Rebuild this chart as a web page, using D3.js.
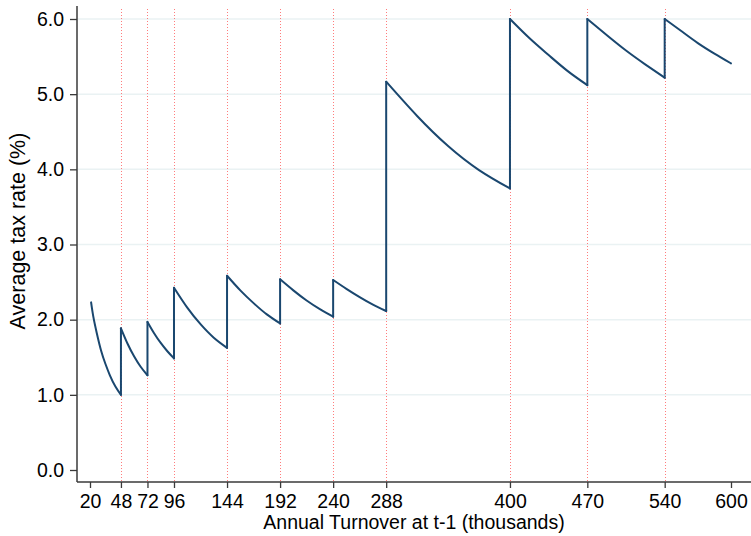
<!DOCTYPE html>
<html>
<head>
<meta charset="utf-8">
<script src="https://cdn.jsdelivr.net/npm/d3@7"></script>
<style>
  html, body { margin: 0; padding: 0; background: #fff; }
  svg { display: block; font-family: "Liberation Sans", Arial, Helvetica, sans-serif; }
</style>
</head>
<body>
<svg id="chart" width="751" height="536"></svg>
<script>
// ---- data ----
const xTicks = [20, 48, 72, 96, 144, 192, 240, 288, 400, 470, 540, 600];
const yTicks = [0, 1, 2, 3, 4, 5, 6];
const thresholds = [48, 72, 96, 144, 192, 240, 288, 400, 470, 540];

// each bracket: turnover (thousands) and average tax rate (%)
const seg1 = [[21, 2.23], [23, 2.04], [26, 1.83], [30, 1.59], [34, 1.41], [38, 1.26], [43, 1.11], [48, 1.00]];
const seg2 = [[48, 1.885], [54, 1.68], [60, 1.51], [66, 1.37], [72, 1.26]];
const seg3 = [[72, 1.97], [78, 1.82], [84, 1.69], [90, 1.58], [96, 1.485]];
const seg4 = [[96, 2.425], [108, 2.16], [120, 1.94], [132, 1.76], [144, 1.625]];
const seg5 = [[144, 2.585], [156, 2.39], [168, 2.22], [180, 2.07], [192, 1.95]];
const seg6 = [[192, 2.537], [204, 2.39], [216, 2.255], [228, 2.14], [240, 2.04]];
const seg7 = [[240, 2.528], [252, 2.41], [264, 2.30], [276, 2.20], [288, 2.115]];
const seg8 = [[288, 5.166], [316, 4.71], [344, 4.31], [372, 3.99], [400, 3.745]];
const seg9 = [[400, 6.0], [418, 5.74], [435, 5.52], [452, 5.31], [470, 5.12]];
const seg10 = [[470, 6.0], [488, 5.78], [505, 5.58], [522, 5.40], [540, 5.22]];
const seg11 = [[540, 6.0], [555, 5.84], [570, 5.68], [585, 5.54], [600, 5.41]];
const segments = [seg1, seg2, seg3, seg4, seg5, seg6, seg7, seg8, seg9, seg10, seg11];

const xTitle = "Annual Turnover at t-1 (thousands)";
const yTitle = "Average tax rate (%)";

// ---- layout ----
const svg = d3.select("#chart");
const plotLeft = 77, plotRight = 751, plotTop = 6, plotBottom = 482;
const x = d3.scaleLinear().domain([20, 600]).range([90, 731]);
const y = d3.scaleLinear().domain([0, 6]).range([470, 19]);
const lineColor = "#1a476f";
const axisColor = "#3a3a3a";
const px = v => Math.round(v) + 0.5;

// gridlines
svg.append("g").selectAll("line")
  .data(yTicks.filter(d => d > 0))
  .join("line")
  .attr("x1", plotLeft + 1).attr("x2", plotRight)
  .attr("y1", d => y(d)).attr("y2", d => y(d))
  .attr("stroke", "#eaf2f3").attr("stroke-width", 1.5);

// red dotted threshold lines
svg.append("g").selectAll("line")
  .data(thresholds)
  .join("line")
  .attr("x1", d => px(x(d))).attr("x2", d => px(x(d)))
  .attr("y1", 9).attr("y2", plotBottom)
  .attr("stroke", "#ff5050").attr("stroke-opacity", 0.75)
  .attr("stroke-width", 1).attr("stroke-dasharray", "1,2");

// vertical jumps at thresholds
const jumps = segments.slice(1).map((s, i) => {
  const prev = segments[i];
  return [[s[0][0], prev[prev.length - 1][1]], [s[0][0], s[0][1]]];
});
const straight = d3.line().x(d => x(d[0])).y(d => y(d[1]));
const curved = d3.line().x(d => x(d[0])).y(d => y(d[1])).curve(d3.curveNatural);

const lineG = svg.append("g").attr("fill", "none").attr("stroke", lineColor)
  .attr("stroke-width", 2).attr("stroke-linejoin", "round").attr("stroke-linecap", "round");
lineG.selectAll("path.jump").data(jumps).join("path").attr("class", "jump").attr("d", straight);
lineG.selectAll("path.seg").data(segments).join("path").attr("class", "seg").attr("d", curved);

// axes
const xAxis = d3.axisBottom(x).tickValues(xTicks).tickSize(6).tickPadding(6).tickFormat(d3.format("d"));
const gx = svg.append("g").attr("transform", `translate(0,${plotBottom})`).call(xAxis);
gx.select(".domain").remove();
gx.selectAll(".tick line").attr("stroke", axisColor).attr("stroke-width", 1.3);
gx.selectAll(".tick text").attr("fill", "#000").style("font-size", "19.5px")
  .style("font-family", "'Liberation Sans', Arial, sans-serif");

const yAxis = d3.axisLeft(y).tickValues(yTicks).tickSize(7).tickPadding(6).tickFormat(d3.format(".1f"));
const gy = svg.append("g").attr("transform", `translate(${plotLeft},0)`).call(yAxis);
gy.select(".domain").remove();
gy.selectAll(".tick line").attr("stroke", axisColor).attr("stroke-width", 1.3);
gy.selectAll(".tick text").attr("fill", "#000").style("font-size", "19.5px")
  .style("font-family", "'Liberation Sans', Arial, sans-serif");

// axis lines
svg.append("line").attr("x1", plotLeft).attr("x2", plotRight)
  .attr("y1", plotBottom).attr("y2", plotBottom)
  .attr("stroke", axisColor).attr("stroke-width", 1.5);
svg.append("line").attr("x1", plotLeft).attr("x2", plotLeft)
  .attr("y1", plotTop).attr("y2", plotBottom)
  .attr("stroke", axisColor).attr("stroke-width", 1.5);

// titles
svg.append("text").attr("x", (plotLeft + plotRight) / 2).attr("y", 529)
  .attr("text-anchor", "middle").style("font-size", "19.5px").attr("fill", "#000")
  .text(xTitle);
svg.append("text").attr("transform", "translate(25,231) rotate(-90)")
  .attr("text-anchor", "middle").style("font-size", "21.5px").attr("fill", "#000")
  .text(yTitle);
</script>
</body>
</html>
